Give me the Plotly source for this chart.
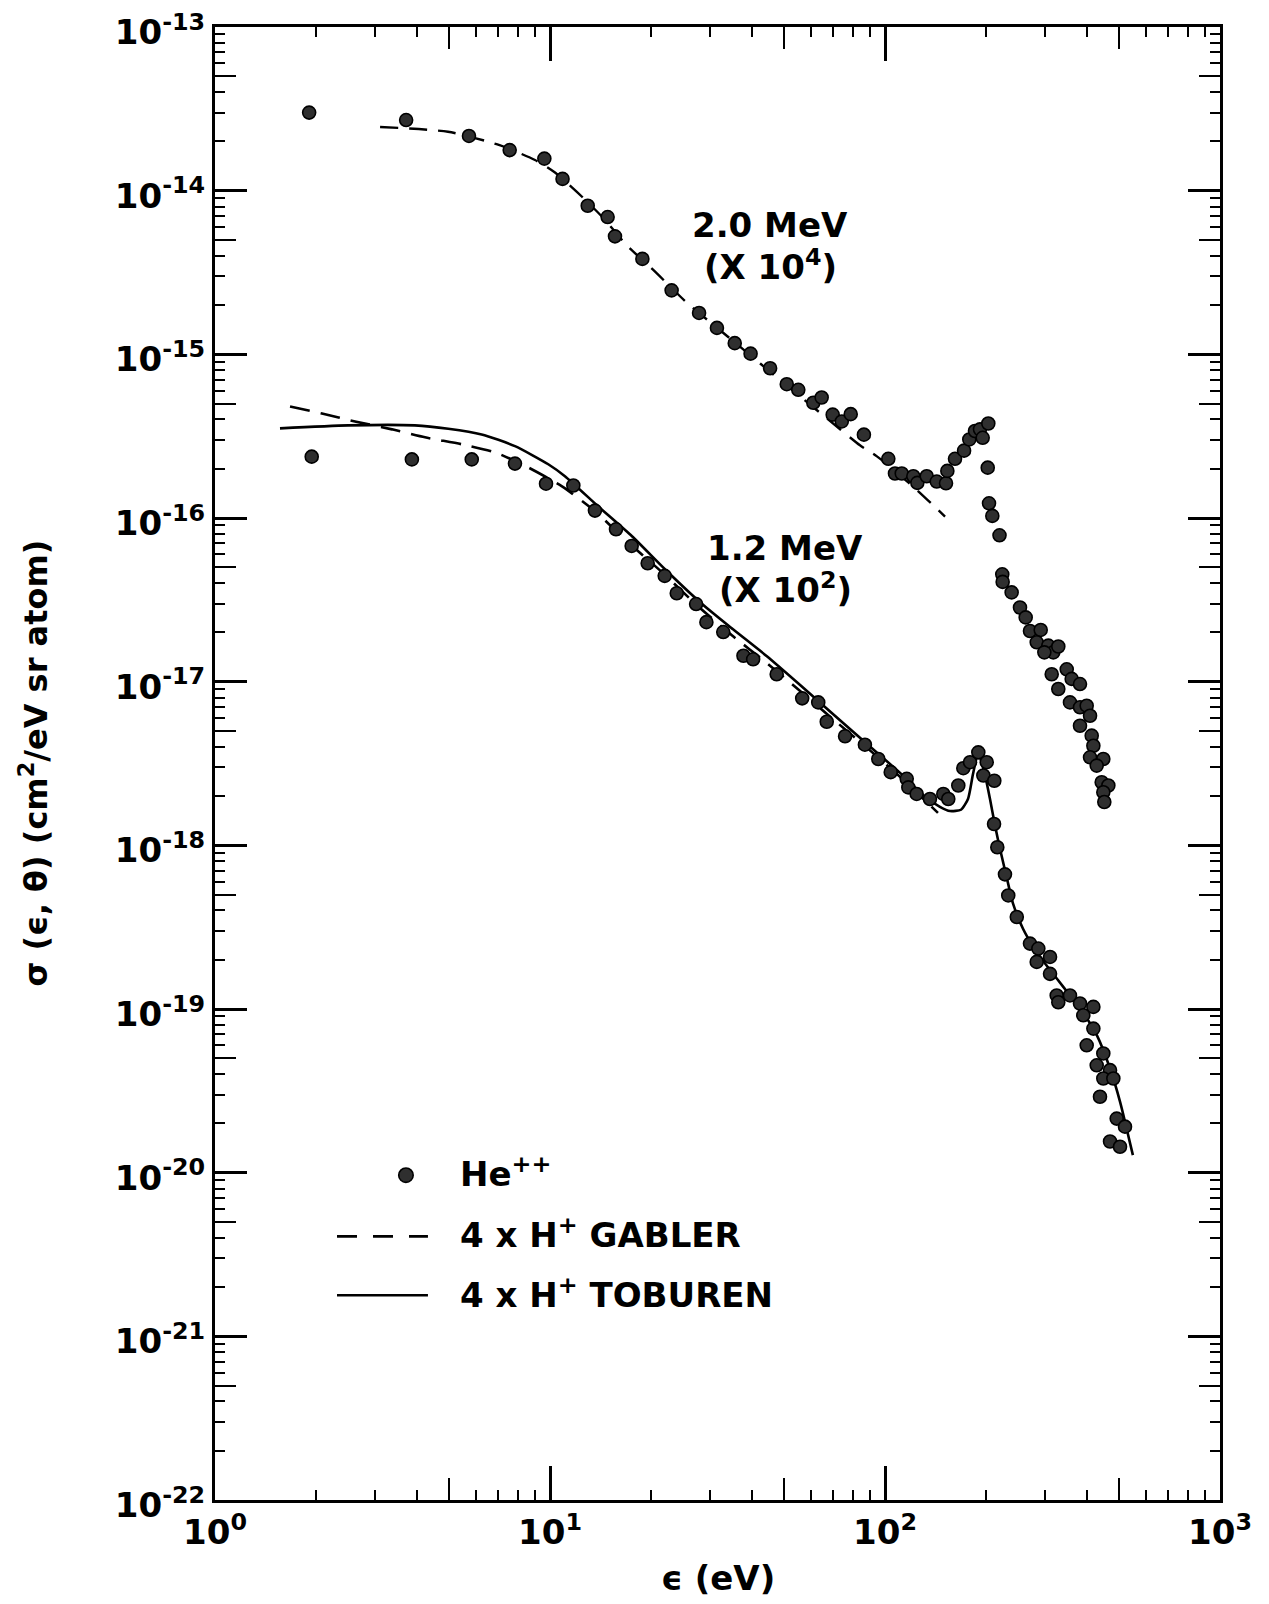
import plotly.graph_objects as go

# He++ measurements, 2.0 MeV (scaled x 10^4)
he20_energy = [1.91, 3.72, 5.73, 7.58, 9.62, 10.9, 12.96, 14.86, 15.63, 18.87,
               23.07, 27.86, 31.5, 35.6, 39.7, 45.4, 50.9, 55.1, 61.1, 64.7,
               69.8, 74.3, 79.0, 86.5, 102.3, 107.1, 112.2, 121.5, 124.9, 133.2,
               142.7, 152.1, 153.5, 161.8, 172.2, 178.5, 185.6, 192.1, 195.7, 203.4,
               202.6, 204.4, 209.1, 219.7, 223.9, 224.5, 238.8, 252.9, 263.0, 270.9,
               291.6, 283.7, 307.3, 318.0, 299.0, 329.1, 314.5, 348.7, 329.1, 360.8,
               382.0, 356.6, 382.0, 400.0, 409.3, 382.0, 414.0, 418.8, 409.3, 448.4,
               428.5, 443.4, 464.2, 448.4, 451.5]
he20_sigma = [3.0e-14, 2.70e-14, 2.16e-14, 1.77e-14, 1.57e-14, 1.18e-14, 8.09e-15, 6.9e-15, 5.26e-15, 3.83e-15,
              2.46e-15, 1.79e-15, 1.45e-15, 1.17e-15, 1.01e-15, 8.22e-16, 6.57e-16, 6.07e-16, 5.06e-16, 5.45e-16,
              4.28e-16, 3.89e-16, 4.31e-16, 3.23e-16, 2.30e-16, 1.87e-16, 1.87e-16, 1.80e-16, 1.64e-16, 1.80e-16,
              1.67e-16, 1.63e-16, 1.94e-16, 2.30e-16, 2.58e-16, 3.02e-16, 3.40e-16, 3.48e-16, 3.09e-16, 3.78e-16,
              2.03e-16, 1.23e-16, 1.03e-16, 7.84e-17, 4.53e-17, 4.07e-17, 3.51e-17, 2.84e-17, 2.47e-17, 2.04e-17,
              2.07e-17, 1.74e-17, 1.66e-17, 1.51e-17, 1.51e-17, 1.64e-17, 1.11e-17, 1.19e-17, 9.02e-18, 1.04e-17,
              9.67e-18, 7.47e-18, 6.97e-18, 7.13e-18, 6.19e-18, 5.38e-18, 4.68e-18, 4.06e-18, 3.45e-18, 3.37e-18,
              3.07e-18, 2.43e-18, 2.32e-18, 2.11e-18, 1.84e-18]

# He++ measurements, 1.2 MeV (scaled x 10^2)
he12_energy = [1.944, 3.87, 5.84, 7.86, 9.73, 11.74, 13.62, 15.74, 17.53, 19.57,
               22.0, 23.9, 27.3, 29.3, 32.9, 37.8, 40.4, 47.5, 56.6, 63.2,
               67.0, 76.0, 87.1, 95.5, 104.0, 116.1, 117.4, 124.3, 136.2, 149.3,
               154.5, 165.5, 171.3, 179.4, 189.9, 201.2, 196.6, 212.0, 211.6, 216.4,
               228.1, 233.3, 247.4, 270.9, 286.9, 283.7, 310.9, 310.9, 325.5, 329.1,
               356.6, 382.0, 418.8, 390.8, 418.8, 400.0, 448.4, 428.5, 469.6, 448.4,
               480.4, 438.3, 491.6, 520.5, 469.6, 502.9]
he12_sigma = [2.37e-16, 2.28e-16, 2.28e-16, 2.15e-16, 1.62e-16, 1.58e-16, 1.11e-16, 8.53e-17, 6.75e-17, 5.29e-17,
              4.43e-17, 3.47e-17, 2.98e-17, 2.31e-17, 2.01e-17, 1.44e-17, 1.37e-17, 1.11e-17, 7.91e-18, 7.47e-18,
              5.69e-18, 4.64e-18, 4.12e-18, 3.37e-18, 2.80e-18, 2.55e-18, 2.26e-18, 2.06e-18, 1.92e-18, 2.06e-18,
              1.92e-18, 2.32e-18, 2.96e-18, 3.22e-18, 3.70e-18, 3.22e-18, 2.67e-18, 2.48e-18, 1.35e-18, 9.73e-19,
              6.65e-19, 4.94e-19, 3.65e-19, 2.51e-19, 2.34e-19, 1.94e-19, 2.08e-19, 1.64e-19, 1.21e-19, 1.10e-19,
              1.21e-19, 1.08e-19, 1.03e-19, 9.15e-20, 7.59e-20, 6.00e-20, 5.35e-20, 4.53e-20, 4.23e-20, 3.76e-20,
              3.76e-20, 2.91e-20, 2.14e-20, 1.91e-20, 1.55e-20, 1.44e-20]

# 4 x H+ (Gabler), 2.0 MeV curve
gabler20_energy = [3.11, 4.96, 7.0, 9.02, 10.35, 12.46, 14.3, 17.1, 20.3, 25.6,
                   32.8, 42.4, 53.1, 67.1, 84.2, 94.6, 121.2, 151.1]
gabler20_sigma = [2.45e-14, 2.29e-14, 1.91e-14, 1.54e-14, 1.29e-14, 9.18e-15, 6.93e-15, 4.55e-15, 3.29e-15, 2.07e-15,
                  1.36e-15, 8.79e-16, 6.01e-16, 4.06e-16, 2.78e-16, 2.38e-16, 1.56e-16, 1.02e-16]

# 4 x H+ (Gabler), 1.2 MeV curve
gabler12_energy = [1.675, 2.086, 2.618, 3.376, 4.236, 5.46, 6.85, 8.60, 10.86, 13.62,
                   17.1, 21.6, 27.66, 34.9, 44.4, 55.8, 69.9, 88.4, 110.9, 143.9]
gabler12_sigma = [4.80e-16, 4.35e-16, 3.89e-16, 3.48e-16, 3.11e-16, 2.82e-16, 2.52e-16, 2.04e-16, 1.56e-16, 1.10e-16,
                  7.11e-17, 4.66e-17, 2.89e-17, 1.92e-17, 1.30e-17, 8.76e-18, 5.91e-18, 3.94e-18, 2.62e-18, 1.58e-18]

# 4 x H+ (Toburen), 1.2 MeV curve
toburen12_energy = [1.563, 2.495, 3.95, 4.97, 6.25, 7.86, 9.88, 11.08, 13.91, 17.57,
                    22.04, 28.04, 35.18, 44.4, 55.8, 69.9, 88.4, 110.9, 131.6, 145.9,
                    156.3, 168.6, 176.9, 183.1, 189.5, 197.5, 205.8, 213.0, 220.4, 231.3,
                    241.1, 258.2, 274.7, 296.2, 326.1, 356.6, 390.0, 429.5, 469.6, 502.9,
                    549.5]
toburen12_sigma = [3.53e-16, 3.68e-16, 3.68e-16, 3.51e-16, 3.24e-16, 2.75e-16, 2.13e-16, 1.80e-16, 1.18e-16, 7.73e-17,
                   4.86e-17, 3.06e-17, 2.09e-17, 1.43e-17, 9.54e-18, 6.34e-18, 4.16e-18, 2.77e-18, 1.98e-18, 1.72e-18,
                   1.62e-18, 1.65e-18, 1.92e-18, 2.73e-18, 3.62e-18, 2.85e-18, 1.92e-18, 1.32e-18, 9.52e-19, 6.25e-19,
                   4.40e-19, 3.09e-19, 2.47e-19, 1.97e-19, 1.53e-19, 1.21e-19, 9.51e-20, 6.88e-20, 4.33e-20, 2.72e-20,
                   1.28e-20]

# axis ticks
x_major = [1, 10, 100, 1000]
x_major_text = ["10<sup>0</sup>", "10<sup>1</sup>", "10<sup>2</sup>", "10<sup>3</sup>"]
y_exponents = list(range(-22, -12))
y_major = [10.0 ** e for e in y_exponents]
y_major_text = ["10<sup>%d</sup>" % e for e in y_exponents]

FONT = "DejaVu Sans"
INK = "black"

x_minor = [m * 10 ** d for d in range(3) for m in (2, 3, 4, 6, 7, 8, 9)]
x_half = [5 * 10 ** d for d in range(3)]
y_minor = [m * 10.0 ** e for e in y_exponents[:-1] for m in (2, 3, 4, 6, 7, 8, 9)]
y_half = [5 * 10.0 ** e for e in y_exponents[:-1]]

dot_marker = dict(symbol="circle", size=13, color="#2f2f2f", line=dict(color=INK, width=1.6))

fig = go.Figure()
fig.add_trace(go.Scatter(x=gabler20_energy, y=gabler20_sigma, mode="lines",
                         line=dict(color=INK, width=2.4, dash="18px,11px", shape="spline", smoothing=0.6),
                         name="4 x H+ GABLER (2.0 MeV)", hoverinfo="skip"))
fig.add_trace(go.Scatter(x=gabler12_energy, y=gabler12_sigma, mode="lines",
                         line=dict(color=INK, width=2.6, dash="20px,11px", shape="spline", smoothing=0.6),
                         name="4 x H+ GABLER", hoverinfo="skip"))
fig.add_trace(go.Scatter(x=toburen12_energy, y=toburen12_sigma, mode="lines",
                         line=dict(color=INK, width=2.6, shape="spline", smoothing=0.6),
                         name="4 x H+ TOBUREN", hoverinfo="skip"))
fig.add_trace(go.Scatter(x=he20_energy, y=he20_sigma, mode="markers", marker=dot_marker, name="He++ 2.0 MeV"))
fig.add_trace(go.Scatter(x=he12_energy, y=he12_sigma, mode="markers", marker=dot_marker, name="He++ 1.2 MeV"))
# empty trace that carries the overlay axes holding the half-decade ticks
fig.add_trace(go.Scatter(x=[None], y=[None], xaxis="x2", yaxis="y2", mode="markers",
                         showlegend=False, hoverinfo="skip"))

tick_font = dict(family=FONT, size=34, color=INK, weight="bold")
common = dict(type="log", showgrid=False, zeroline=False, showline=True, linecolor=INK, linewidth=3,
              ticks="inside", tickcolor=INK, mirror="allticks", automargin=False)

fig.update_layout(
    width=1269, height=1604,
    margin=dict(l=215, r=49, t=27, b=104),
    paper_bgcolor="white", plot_bgcolor="white",
    showlegend=False,
    font=dict(family=FONT, size=34, color=INK, weight="bold"),
    xaxis=dict(**common, range=[0, 3], tickvals=x_major, ticktext=x_major_text,
               ticklen=34, tickwidth=2.5, tickfont=tick_font,
               minor=dict(tickvals=x_minor, ticks="inside", ticklen=10, tickwidth=2, tickcolor=INK, showgrid=False)),
    yaxis=dict(**common, range=[-22, -13], tickvals=y_major, ticktext=y_major_text,
               ticklen=32, tickwidth=2.5, tickfont=tick_font, ticklabelshift=5,
               minor=dict(tickvals=y_minor, ticks="inside", ticklen=10, tickwidth=2, tickcolor=INK, showgrid=False)),
    xaxis2=dict(**common, overlaying="x", anchor="y", side="bottom", range=[0, 3],
                tickvals=x_half, ticklen=22, tickwidth=2.2, showticklabels=False),
    yaxis2=dict(**common, overlaying="y", anchor="x", side="left", range=[-22, -13],
                tickvals=y_half, ticklen=21, tickwidth=2.2, showticklabels=False),
)

label_font = dict(family=FONT, size=34, color=INK, weight="bold")
annotations = [
    dict(text="2.0 MeV", x=0.552, y=0.8654),
    dict(text="(X 10<sup>4</sup>)", x=0.553, y=0.8386),
    dict(text="1.2 MeV", x=0.567, y=0.6460),
    dict(text="(X 10<sup>2</sup>)", x=0.568, y=0.6190),
]
for a in annotations:
    fig.add_annotation(xref="paper", yref="paper", showarrow=False, xanchor="center", yanchor="middle",
                       font=label_font, **a)

# axis titles
fig.add_annotation(xref="paper", yref="paper", x=-0.181, y=0.50, textangle=-90, showarrow=False,
                   xanchor="center", yanchor="middle",
                   text="σ (ϵ, θ) (cm<sup>2</sup>/eV sr atom)",
                   font=dict(family=FONT, size=32, color=INK, weight="bold"))
fig.add_annotation(xref="paper", yref="paper", x=0.5, y=-0.053, showarrow=False,
                   xanchor="center", yanchor="middle", text="ϵ (eV)",
                   font=dict(family=FONT, size=34, color=INK, weight="bold"))

# key
key_rows = [
    ("He<sup>++</sup>", 0.2224),
    ("4 x H<sup>+</sup> GABLER", 0.1811),
    ("4 x H<sup>+</sup> TOBUREN", 0.1403),
]
for text, yy in key_rows:
    fig.add_annotation(xref="paper", yref="paper", x=0.2418, y=yy, showarrow=False,
                       xanchor="left", yanchor="middle", text=text, font=label_font)

fig.add_shape(type="circle", xref="paper", yref="paper",
              x0=0.190 - 0.0072, x1=0.190 + 0.0072, y0=0.2205 - 0.0049, y1=0.2205 + 0.0049,
              fillcolor="#2f2f2f", line=dict(color=INK, width=1.6))
fig.add_shape(type="line", xref="paper", yref="paper", x0=0.1214, x1=0.2119, y0=0.179, y1=0.179,
              line=dict(color=INK, width=2.6, dash="20px,16px"))
fig.add_shape(type="line", xref="paper", yref="paper", x0=0.1214, x1=0.2119, y0=0.139, y1=0.139,
              line=dict(color=INK, width=2.6))

fig.write_html("out.html")
